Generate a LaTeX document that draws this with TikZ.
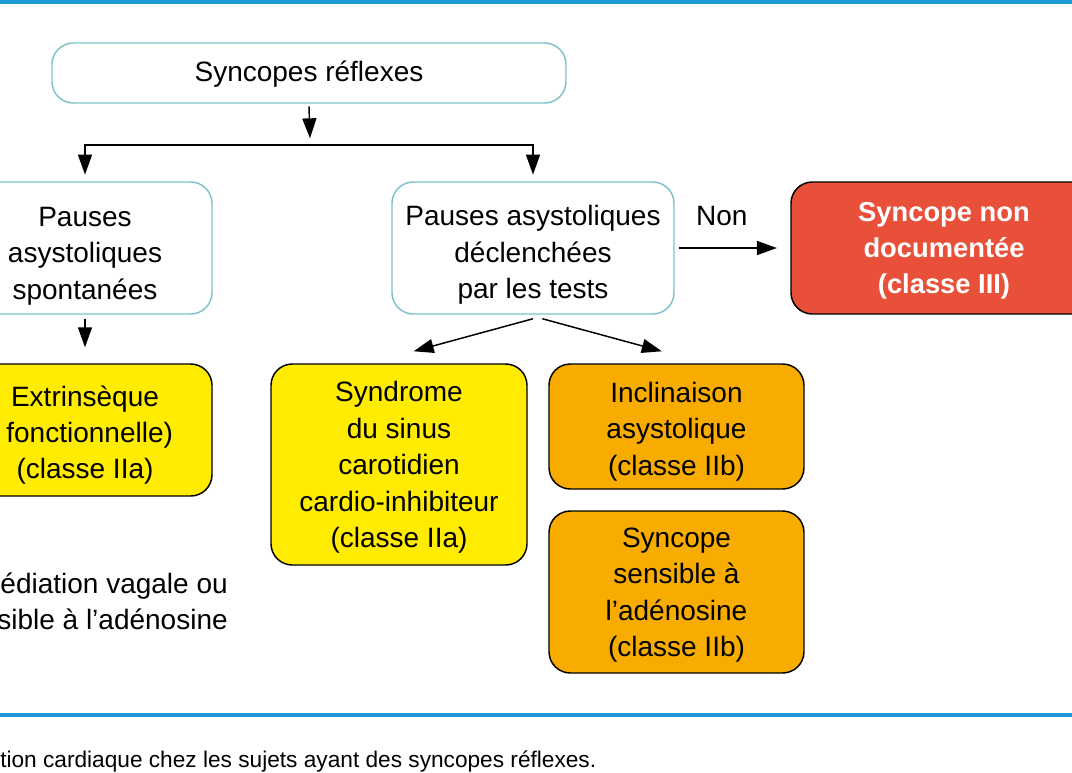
\documentclass[tikz,border=0pt]{standalone}
\usepackage{fontspec}
\setmainfont{Liberation Sans}
\usetikzlibrary{arrows.meta}
\definecolor{teal0}{HTML}{7DC3C8}
\definecolor{blue0}{HTML}{1B9AD6}
\definecolor{red0}{HTML}{E8503A}
\definecolor{yel0}{HTML}{FFEC00}
\definecolor{ora0}{HTML}{F8AC00}
\tikzset{
  box/.style={rounded corners=16pt, line width=1.1pt, inner sep=0pt},
  tealbox/.style={box, draw=teal0, fill=white},
  yelbox/.style={box, draw=black, fill=yel0},
  orabox/.style={box, draw=black, fill=ora0},
  redbox/.style={box, draw=black, fill=red0},
  boxtext/.style={align=center, inner sep=0pt, font=\fontsize{21}{27.3}\selectfont},
  redtext/.style={boxtext, text=white, font=\fontsize{20.5}{27}\selectfont\bfseries},
  arr/.style={line width=1.1pt, -{Triangle[length=15pt,width=10.5pt]}},
  plain/.style={font=\fontsize{21}{27}\selectfont, inner sep=0pt},
}
\begin{document}
\begin{tikzpicture}[x=0.75pt,y=-0.75pt]
\useasboundingbox (0,0) rectangle (1072,772);
\clip (0,0) rectangle (1072,772);
\fill[white] (0,0) rectangle (1072,772);
% rules
\draw[blue0, line width=2.4pt] (0,2) -- (1072,2);
\draw[blue0, line width=2.4pt] (0,715) -- (1072,715);
% boxes
\node[tealbox, minimum width=514*0.75pt, minimum height=60*0.75pt] (top) at (309,73) {};
\node[tealbox, minimum width=254*0.75pt, minimum height=132*0.75pt] (left1) at (85,248) {};
\node[tealbox, minimum width=282*0.75pt, minimum height=132*0.75pt] (mid) at (533,248) {};
\node[redbox, minimum width=306*0.75pt, minimum height=132*0.75pt] (red) at (944,248) {};
\node[yelbox, minimum width=254*0.75pt, minimum height=132*0.75pt] (extr) at (85,430) {};
\node[yelbox, minimum width=256*0.75pt, minimum height=201*0.75pt] (synd) at (399,464.5) {};
\node[orabox, minimum width=255*0.75pt, minimum height=125*0.75pt] (incl) at (676.5,426.5) {};
\node[orabox, minimum width=255*0.75pt, minimum height=162*0.75pt] (sync2) at (676.5,592) {};
% box texts
\node[boxtext] (topt) at ([yshift=-1pt]top.center) {Syncopes réflexes};
\node[boxtext] (left1t) at ([yshift=-6pt]left1.center) {Pauses\\asystoliques\\spontanées};
\node[boxtext] (midt) at ([yshift=-5.25pt]mid.center) {Pauses asystoliques\\déclenchées\\par les tests};
\node[redtext] (redt) at ([yshift=-2.25pt]red.center) {Syncope non\\documentée\\(classe III)};
\node[boxtext] (extrt) at ([yshift=-3.75pt]extr.center) {Extrinsèque\\\hphantom{(}fonctionnelle)\\(classe IIa)};
\node[boxtext] (syndt) at ([yshift=-2.25pt]synd.center) {Syndrome\\du sinus\\carotidien\\cardio-inhibiteur\\(classe IIa)};
\node[boxtext] (inclt) at ([yshift=-3.75pt]incl.center) {Inclinaison\\asystolique\\(classe IIb)};
\node[boxtext] (sync2t) at ([yshift=-2.25pt]sync2.center) {Syncope\\sensible à\\l’adénosine\\(classe IIb)};
\node[plain, align=right, anchor=east] (note) at (228,601) {édiation vagale ou\\sible à l’adénosine};
\node[plain, anchor=west, font=\fontsize{17}{20}\selectfont] (cap) at (0,761) {tion cardiaque chez les sujets ayant des syncopes réflexes.};
% connectors
\coordinate (j) at (310,145);
\draw[arr] ([yshift=-2pt]top.south) -- ([yshift=5pt]j);
\draw[arr] (j) -| ([yshift=5pt]left1.north);
\draw[arr] (j) -| ([yshift=5pt]mid.north);
\draw[arr] ([yshift=-3pt]left1.south) -- ([yshift=12pt]extr.north);
\draw[arr] ([yshift=-3pt]mid.south) -- ([xshift=11pt,yshift=9pt]synd.north);
\draw[arr] ([xshift=7pt,yshift=-3pt]mid.south) -- ([xshift=-11pt,yshift=9pt]incl.north);
\draw[arr] ([xshift=3pt]mid.east) -- ([xshift=-10pt]red.west) node[plain, midway, above=16pt, xshift=-4.5pt] (non) {Non};
\end{tikzpicture}
\end{document}
